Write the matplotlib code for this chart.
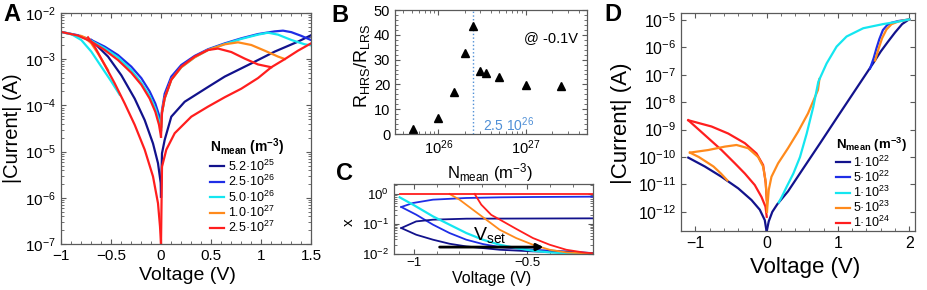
import matplotlib
matplotlib.use("Agg")  # no display in the sandbox
import matplotlib.pyplot as plt
from matplotlib.ticker import FixedLocator, FuncFormatter, LogLocator, MultipleLocator, NullFormatter

plt.rcParams['font.family'] = ['Liberation Sans', 'DejaVu Sans']
plt.rcParams['mathtext.fontset'] = 'custom'
plt.rcParams['mathtext.rm'] = 'Liberation Sans'
plt.rcParams['mathtext.it'] = 'Liberation Sans:italic'
plt.rcParams['mathtext.bf'] = 'Liberation Sans:bold'
plt.rcParams['mathtext.default'] = 'regular'

NAVY = "#12128c"
BLUE = "#1f2ee6"
CYAN = "#14e6f0"
ORANGE = "#ff8a1c"
RED = "#ff1e1e"

# ---------------- panel A : I-V loops for different N_mean ----------------
a_labels = ["5.2·10$^{25}$", "2.5·10$^{26}$", "5.0·10$^{26}$", "1.0·10$^{27}$", "2.5·10$^{27}$"]

navy_ll_v = [-0.697, -0.663, -0.53, -0.397, -0.263, -0.163, -0.08, -0.03, -0.003, 0.0]
navy_ll_i = [2.6e-3, 2.2e-3, 1.14e-3, 4.5e-4, 1.4e-4, 4.8e-5, 1.5e-5, 5.6e-6, 2.1e-6, 1.06e-6]
navy_rl_v = [0.0, 0.01, 0.037, 0.103, 0.237, 0.47, 0.637, 0.903, 1.137, 1.37, 1.5]
navy_rl_i = [1.06e-6, 9.2e-6, 1.8e-5, 5.7e-5, 1.2e-4, 2.5e-4, 4.2e-4, 8.1e-4, 1.46e-3, 2.4e-3, 3.3e-3]

blue_lu_v = [-1.0, -0.83, -0.697, -0.563, -0.43, -0.297, -0.197, -0.113, -0.057, -0.02, 0.0]
blue_lu_i = [3.9e-3, 3.3e-3, 2.6e-3, 1.87e-3, 1.23e-3, 6.9e-4, 3.9e-4, 2.0e-4, 1.1e-4, 6.2e-5, 3.5e-5]
blue_ru_v = [0.0, 0.01, 0.037, 0.103, 0.203, 0.337, 0.47, 0.637, 0.803, 0.97, 1.137, 1.22, 1.303, 1.403, 1.5]
blue_ru_i = [3.5e-5, 7.9e-5, 1.8e-4, 4.2e-4, 7.5e-4, 1.18e-3, 1.64e-3, 2.2e-3, 2.83e-3, 3.5e-3, 4.0e-3,
             4.15e-3, 3.85e-3, 3.2e-3, 2.6e-3]

cyan_lu_v = [-1.0, -0.83, -0.697, -0.563, -0.43, -0.297, -0.197, -0.113, -0.057, -0.02, 0.0]
cyan_lu_i = [3.9e-3, 3.2e-3, 2.5e-3, 1.72e-3, 1.1e-3, 5.8e-4, 3.1e-4, 1.6e-4, 8.6e-5, 4.8e-5, 2.9e-5]
cyan_ll_v = [-0.95, -0.897, -0.797, -0.697, -0.597, -0.497, -0.413]
cyan_ll_i = [3.7e-3, 3.5e-3, 2.6e-3, 1.46e-3, 6.9e-4, 3.3e-4, 1.7e-4]
cyan_ru_v = [0.0, 0.01, 0.037, 0.103, 0.203, 0.337, 0.47, 0.637, 0.803, 0.97, 1.07, 1.17, 1.303, 1.437, 1.5]
cyan_ru_i = [2.9e-5, 7e-5, 1.4e-4, 3.6e-4, 6.7e-4, 1.1e-3, 1.58e-3, 2.13e-3, 2.75e-3, 3.4e-3, 3.75e-3,
             3.4e-3, 2.61e-3, 2.1e-3, 2.0e-3]

orange_ll_v = [-0.8, -0.763, -0.697, -0.63, -0.53]
orange_ll_i = [3.2e-3, 2.97e-3, 2.2e-3, 1.33e-3, 5.8e-4]
orange_ru_v = [0.0, 0.01, 0.037, 0.103, 0.203, 0.337, 0.47, 0.637, 0.77, 0.903, 1.037, 1.17, 1.237]
orange_ru_i = [2.9e-5, 7e-5, 1.45e-4, 3.6e-4, 6.7e-4, 1.1e-3, 1.58e-3, 2.1e-3, 2.32e-3, 2.03e-3, 1.53e-3,
               1.14e-3, 1.01e-3]

red_lu_v = [-1.0, -0.83, -0.697, -0.563, -0.43, -0.297, -0.197, -0.113, -0.057, -0.02, 0.0]
red_lu_i = [3.9e-3, 3.25e-3, 2.4e-3, 1.58e-3, 9.6e-4, 5.1e-4, 2.8e-4, 1.4e-4, 7.3e-5, 3.8e-5, 2.1e-5]
red_ll_v = [-0.73, -0.663, -0.563, -0.463, -0.363, -0.263, -0.163, -0.08, -0.03, -0.01, 0.0]
red_ll_i = [2.97e-3, 1.87e-3, 7.5e-4, 3.0e-4, 1.1e-4, 3.8e-5, 1.1e-5, 2.9e-6, 7.6e-7, 2.4e-7, 1.0e-7]
red_ru_v = [0.0, 0.01, 0.037, 0.103, 0.203, 0.337, 0.47, 0.57, 0.703, 0.837, 0.97, 1.103]
red_ru_i = [2.1e-5, 7e-5, 1.45e-4, 3.6e-4, 6.9e-4, 1.14e-3, 1.58e-3, 1.7e-3, 1.43e-3, 1.03e-3, 7.7e-4, 6.7e-4]
red_rl_v = [0.0, 0.01, 0.053, 0.137, 0.303, 0.47, 0.637, 0.803, 0.97, 1.103, 1.237, 1.37, 1.5]
red_rl_i = [1.0e-7, 4.7e-6, 1.1e-5, 2.5e-5, 5.7e-5, 9.4e-5, 1.5e-4, 2.3e-4, 3.9e-4, 6.7e-4, 1.0e-3, 1.53e-3, 2.2e-3]

# ---------------- panel B : ON/OFF ratio vs N_mean ----------------
b_nmean = [5.2e25, 1e26, 1.5e26, 2e26, 2.5e26, 3e26, 3.5e26, 5e26, 1e27, 2.5e27]
b_ratio = [2.2, 6.5, 17.0, 32.5, 43.4, 25.5, 24.7, 23.1, 19.9, 19.5]
b_marked = 2.5e26

# ---------------- panel C : x(V) during set ----------------
c_red_flat_v = [-1.063, -0.21]
c_red_flat_x = [1.0, 1.0]
c_red_v = [-0.732, -0.703, -0.659, -0.622, -0.549, -0.475, -0.401, -0.328, -0.254, -0.21]
c_red_x = [1.0, 0.44, 0.2, 0.14, 0.068, 0.0335, 0.02, 0.0136, 0.0111, 0.0103]
c_orange_v = [-0.843, -0.799, -0.740, -0.681, -0.622, -0.549, -0.475, -0.401, -0.328, -0.21]
c_orange_x = [1.0, 0.646, 0.298, 0.138, 0.0637, 0.0335, 0.02, 0.0136, 0.0111, 0.01]
c_cyan_v = [-1.063, -1.004, -0.916, -0.843, -0.769, -0.696, -0.622, -0.549, -0.475, -0.401, -0.328, -0.21]
c_cyan_x = [0.773, 0.439, 0.178, 0.094, 0.0493, 0.0295, 0.02, 0.0155, 0.0126, 0.0111, 0.0103, 0.0098]
c_blue1_up_v = [-1.056, -1.004, -0.916, -0.769, -0.622, -0.475, -0.21]
c_blue1_up_x = [0.367, 0.5, 0.646, 0.735, 0.773, 0.793, 0.814]
c_blue1_dn_v = [-1.056, -0.99, -0.916, -0.843, -0.769, -0.696, -0.622, -0.475, -0.328, -0.21]
c_blue1_dn_x = [0.367, 0.203, 0.094, 0.0493, 0.0295, 0.0211, 0.0167, 0.0136, 0.012, 0.0105]
c_blue2_up_v = [-1.056, -0.99, -0.916, -0.769, -0.21]
c_blue2_up_x = [0.0725, 0.121, 0.138, 0.149, 0.153]
c_blue2_dn_v = [-1.056, -0.99, -0.916, -0.843, -0.769, -0.622, -0.475, -0.21]
c_blue2_dn_x = [0.0725, 0.0433, 0.0295, 0.0216, 0.0176, 0.0136, 0.012, 0.0105]
c_arrow_v = [-0.899, -0.416]
c_arrow_x = 0.0167

# ---------------- panel D : I-V loops, low N_mean ----------------
d_labels = ["1·10$^{22}$", "5·10$^{22}$", "1·10$^{23}$", "5·10$^{23}$", "1·10$^{24}$"]

d_navy_l_v = [-1.098, -0.865, -0.632, -0.398, -0.212, -0.096, -0.026, 0.0]
d_navy_l_i = [9.5e-11, 4.5e-11, 1.9e-11, 7.2e-12, 2.7e-12, 1.2e-12, 5.0e-13, 1.9e-13]
d_navy_r_v = [0.0, 0.03, 0.08, 0.15, 0.3, 0.5, 0.75, 1.0, 1.25, 1.5, 1.6, 1.7, 1.8, 1.9, 2.0]
d_navy_r_i = [1.9e-13, 4.5e-13, 1.0e-12, 1.9e-12, 5.6e-12, 3.4e-11, 3.2e-10, 3.1e-9, 2.95e-8, 2.8e-7,
              7.1e-7, 1.6e-6, 3.5e-6, 7.1e-6, 1.07e-5]
d_blue_v = [1.45, 1.5, 1.54, 1.58, 1.63, 1.69, 1.75, 1.85, 2.0]
d_blue_i = [1.7e-7, 4.0e-7, 9.3e-7, 2.0e-6, 4.3e-6, 6.5e-6, 7.9e-6, 9.2e-6, 1.05e-5]
d_cyan_v = [0.17, 0.212, 0.282, 0.375, 0.468, 0.562, 0.655, 0.725, 0.841, 0.981, 1.121, 1.354, 1.634, 1.82, 2.0]
d_cyan_i = [2.2e-12, 3.5e-12, 8.3e-12, 2.5e-11, 1.0e-10, 7.2e-10, 6.9e-9, 5.6e-8, 2.6e-7, 1.07e-6, 2.5e-6,
            5.0e-6, 7.1e-6, 8.5e-6, 1.05e-5]
d_orange_lu_v = [-1.075, -0.818, -0.585, -0.422, -0.259, -0.119, -0.049, -0.016, 0.002, 0.005]
d_orange_lu_i = [1.45e-10, 1.8e-10, 2.4e-10, 2.75e-10, 2.1e-10, 1.0e-10, 4.5e-11, 1.45e-11, 3.5e-12, 1.0e-12]
d_orange_ll_v = [-1.075, -0.95, -0.85, -0.744, -0.64, -0.55]
d_orange_ll_i = [1.45e-10, 1.0e-10, 6.8e-11, 4.5e-11, 2.5e-11, 1.4e-11]
d_orange_r_v = [0.005, 0.03, 0.068, 0.161, 0.3, 0.44, 0.58, 0.72, 0.74]
d_orange_r_i = [1.0e-12, 6.3e-12, 1.9e-11, 5.9e-11, 2.1e-10, 8.3e-10, 3.9e-9, 2.8e-8, 7e-8]
d_orange_set_v = [1.52, 1.57, 1.62, 1.68, 1.75, 1.85, 2.0]
d_orange_set_i = [3.3e-7, 9e-7, 2.2e-6, 4.5e-6, 7.0e-6, 8.9e-6, 1.05e-5]
d_red_lu_v = [-1.098, -0.772, -0.538, -0.305, -0.142, -0.049, -0.012, 0.002]
d_red_lu_i = [2.2e-9, 1.3e-9, 7.2e-10, 3.2e-10, 1.35e-10, 5.1e-11, 1.1e-11, 2.7e-12]
d_red_ll_v = [-1.098, -0.865, -0.632, -0.445, -0.305, -0.166, -0.072, -0.016, 0.002]
d_red_ll_i = [2.2e-9, 6.3e-10, 1.8e-10, 5.9e-11, 2.5e-11, 9.5e-12, 3.5e-12, 1.55e-12, 6.6e-13]


def minus_fmt(v, pos):
    return ("%g" % v).replace("-", "\u2212")


def style(ax, size):
    for s in ax.spines.values():
        s.set_color("#5a5a5a")
        s.set_linewidth(0.9)
    ax.tick_params(which="both", direction="in", top=True, right=True,
                   colors="#5a5a5a", labelcolor="black", labelsize=size)
    ax.tick_params(which="major", length=3.5)
    ax.tick_params(which="minor", length=2)


fig = plt.figure(figsize=(9.27, 2.9), dpi=100)
lw = 1.6

# ---- A ----
axA = fig.add_axes([61 / 927, 46 / 290, 250 / 927, 231 / 290])
axA.plot(navy_ll_v, navy_ll_i, color=NAVY, lw=lw, label=a_labels[0])
axA.plot(navy_rl_v, navy_rl_i, color=NAVY, lw=lw)
axA.plot(blue_lu_v, blue_lu_i, color=BLUE, lw=lw, label=a_labels[1])
axA.plot(blue_ru_v, blue_ru_i, color=BLUE, lw=lw)
axA.plot(cyan_lu_v, cyan_lu_i, color=CYAN, lw=lw, label=a_labels[2])
axA.plot(cyan_ll_v, cyan_ll_i, color=CYAN, lw=lw)
axA.plot(cyan_ru_v, cyan_ru_i, color=CYAN, lw=lw)
axA.plot(orange_ll_v, orange_ll_i, color=ORANGE, lw=lw, label=a_labels[3])
axA.plot(orange_ru_v, orange_ru_i, color=ORANGE, lw=lw)
axA.plot(red_lu_v, red_lu_i, color=RED, lw=lw, label=a_labels[4])
axA.plot(red_ll_v, red_ll_i, color=RED, lw=lw)
axA.plot(red_ru_v, red_ru_i, color=RED, lw=lw)
axA.plot(red_rl_v, red_rl_i, color=RED, lw=lw)
axA.set_yscale("log")
axA.set_xlim(-1, 1.5)
axA.set_ylim(1e-7, 1e-2)
axA.xaxis.set_major_locator(MultipleLocator(0.5))
axA.xaxis.set_minor_locator(MultipleLocator(0.1))
axA.xaxis.set_major_formatter(FuncFormatter(minus_fmt))
axA.yaxis.set_minor_locator(LogLocator(subs=range(2, 10)))
axA.yaxis.set_minor_formatter(NullFormatter())
style(axA, 11)
axA.set_xlabel("Voltage (V)", fontsize=14)
axA.set_ylabel("|Current| (A)", fontsize=14.5)
axA.xaxis.set_label_coords(0.504, -0.1)
axA.yaxis.set_label_coords(-0.158, 0.5)
axA.legend(loc="upper left", bbox_to_anchor=(0.596, 0.465), frameon=False, fontsize=9,
           title=r"$\mathbf{N_{mean}\ (m^{-3})}$", title_fontsize=10, alignment="left",
           handlelength=1.15, handletextpad=0.25, labelspacing=0.02, borderpad=0, borderaxespad=0)

# ---- B ----
axB = fig.add_axes([395 / 927, 156 / 290, 192 / 927, 124 / 290])
axB.axvline(b_marked, color="#4f8fd6", ls=":", lw=1)
axB.plot(b_nmean, b_ratio, ls="none", marker="^", color="black", ms=6)
axB.set_xscale("log")
axB.set_xlim(3.2e25, 5e27)
axB.set_ylim(0, 50)
axB.xaxis.set_major_locator(FixedLocator([1e26, 1e27]))
axB.yaxis.set_major_locator(MultipleLocator(10))
axB.yaxis.set_minor_locator(MultipleLocator(2))
style(axB, 10.5)
axB.set_ylabel(r"R$_{\mathrm{HRS}}$/R$_{\mathrm{LRS}}$", fontsize=13)
axB.set_xlabel(r"N$_{\mathrm{mean}}$ (m$^{-3}$)", fontsize=12)
axB.yaxis.set_label_coords(-0.12, 0.55)
axB.xaxis.set_label_coords(0.495, -0.22)
axB.text(0.81, 0.775, "@ -0.1V", transform=axB.transAxes, ha="center", va="center", fontsize=10.5)
axB.text(0.458, 0.075, "2.5 10$^{26}$", transform=axB.transAxes, ha="left", va="center",
         fontsize=10, color="#4f8fd6")

# ---- C ----
axC = fig.add_axes([394 / 927, 36 / 290, 199 / 927, 70 / 290])
lc = 1.3
axC.plot(c_blue1_up_v, c_blue1_up_x, color=BLUE, lw=lc)
axC.plot(c_blue1_dn_v, c_blue1_dn_x, color=BLUE, lw=lc)
axC.plot(c_blue2_up_v, c_blue2_up_x, color=NAVY, lw=lc)
axC.plot(c_blue2_dn_v, c_blue2_dn_x, color=NAVY, lw=lc)
axC.plot(c_cyan_v, c_cyan_x, color=CYAN, lw=lc + 0.3)
axC.plot(c_orange_v, c_orange_x, color=ORANGE, lw=lc)
axC.plot(c_red_flat_v, c_red_flat_x, color=RED, lw=lc)
axC.plot(c_red_v, c_red_x, color=RED, lw=lc)
axC.annotate("", xy=(c_arrow_v[1], c_arrow_x), xytext=(c_arrow_v[0], c_arrow_x),
             arrowprops=dict(arrowstyle="-|>", color="black", lw=2, mutation_scale=10))
axC.text(-0.74, 0.02, r"V$_{\mathrm{set}}$", fontsize=14, va="bottom", ha="left")
axC.set_yscale("log")
axC.set_xlim(-1.088, -0.21)
axC.set_ylim(0.0098, 2.16)
axC.xaxis.set_major_locator(FixedLocator([-1, -0.5]))
axC.xaxis.set_major_formatter(FuncFormatter(minus_fmt))
axC.xaxis.set_minor_locator(MultipleLocator(0.1))
axC.yaxis.set_major_locator(FixedLocator([1e-2, 1e-1, 1e0]))
axC.yaxis.set_minor_locator(LogLocator(subs=range(2, 10)))
axC.yaxis.set_minor_formatter(NullFormatter())
style(axC, 9.5)
axC.tick_params(axis="x", pad=2)
axC.set_ylabel("x", fontsize=11)
axC.set_xlabel("Voltage (V)", fontsize=11.5)
axC.yaxis.set_label_coords(-0.19, 0.46)
axC.xaxis.set_label_coords(0.49, -0.245)

# ---- D ----
axD = fig.add_axes([681 / 927, 59 / 290, 234 / 927, 218 / 290])
axD.plot(d_navy_l_v, d_navy_l_i, color=NAVY, lw=lw, label=d_labels[0])
axD.plot(d_navy_r_v, d_navy_r_i, color=NAVY, lw=lw)
axD.plot(d_blue_v, d_blue_i, color=BLUE, lw=lw, label=d_labels[1])
axD.plot(d_red_lu_v, d_red_lu_i, color=RED, lw=lw, label=d_labels[4])
axD.plot(d_red_ll_v, d_red_ll_i, color=RED, lw=lw)
axD.plot(d_orange_lu_v, d_orange_lu_i, color=ORANGE, lw=lw, label=d_labels[3])
axD.plot(d_orange_ll_v, d_orange_ll_i, color=ORANGE, lw=lw)
axD.plot(d_orange_r_v, d_orange_r_i, color=ORANGE, lw=lw)
axD.plot(d_orange_set_v, d_orange_set_i, color=ORANGE, lw=lw)
axD.plot(d_cyan_v, d_cyan_i, color=CYAN, lw=lw, label=d_labels[2])
axD.set_yscale("log")
axD.set_xlim(-1.2, 2.08)
axD.set_ylim(2e-13, 1.8e-5)
axD.xaxis.set_major_locator(MultipleLocator(1))
axD.xaxis.set_minor_locator(MultipleLocator(0.2))
axD.xaxis.set_major_formatter(FuncFormatter(minus_fmt))
axD.yaxis.set_major_locator(FixedLocator([10.0 ** k for k in range(-12, -4)]))
axD.yaxis.set_minor_locator(LogLocator(subs=range(2, 10)))
axD.yaxis.set_minor_formatter(NullFormatter())
style(axD, 11.5)
axD.set_xlabel("Voltage (V)", fontsize=16)
axD.set_ylabel("|Current| (A)", fontsize=16)
axD.xaxis.set_label_coords(0.529, -0.12)
axD.yaxis.set_label_coords(-0.21, 0.495)
h, l = axD.get_legend_handles_labels()
order = [l.index(s) for s in d_labels]
axD.legend([h[i] for i in order], [l[i] for i in order], loc="upper left", bbox_to_anchor=(0.662, 0.435),
           frameon=False, fontsize=9, title=r"$\mathbf{N_{mean}\ (m^{-3})}$", title_fontsize=9.5,
           alignment="left", handlelength=1.1, handletextpad=0.3, labelspacing=0.0,
           borderpad=0, borderaxespad=0)

# panel letters
for x, y, s in [(0.004, 0.99, "A"), (0.357, 0.985, "B"), (0.362, 0.44, "C"), (0.652, 0.99, "D")]:
    fig.text(x, y, s, fontsize=17, fontweight="bold", va="top", ha="left")

fig.savefig("out.png", dpi=100)
